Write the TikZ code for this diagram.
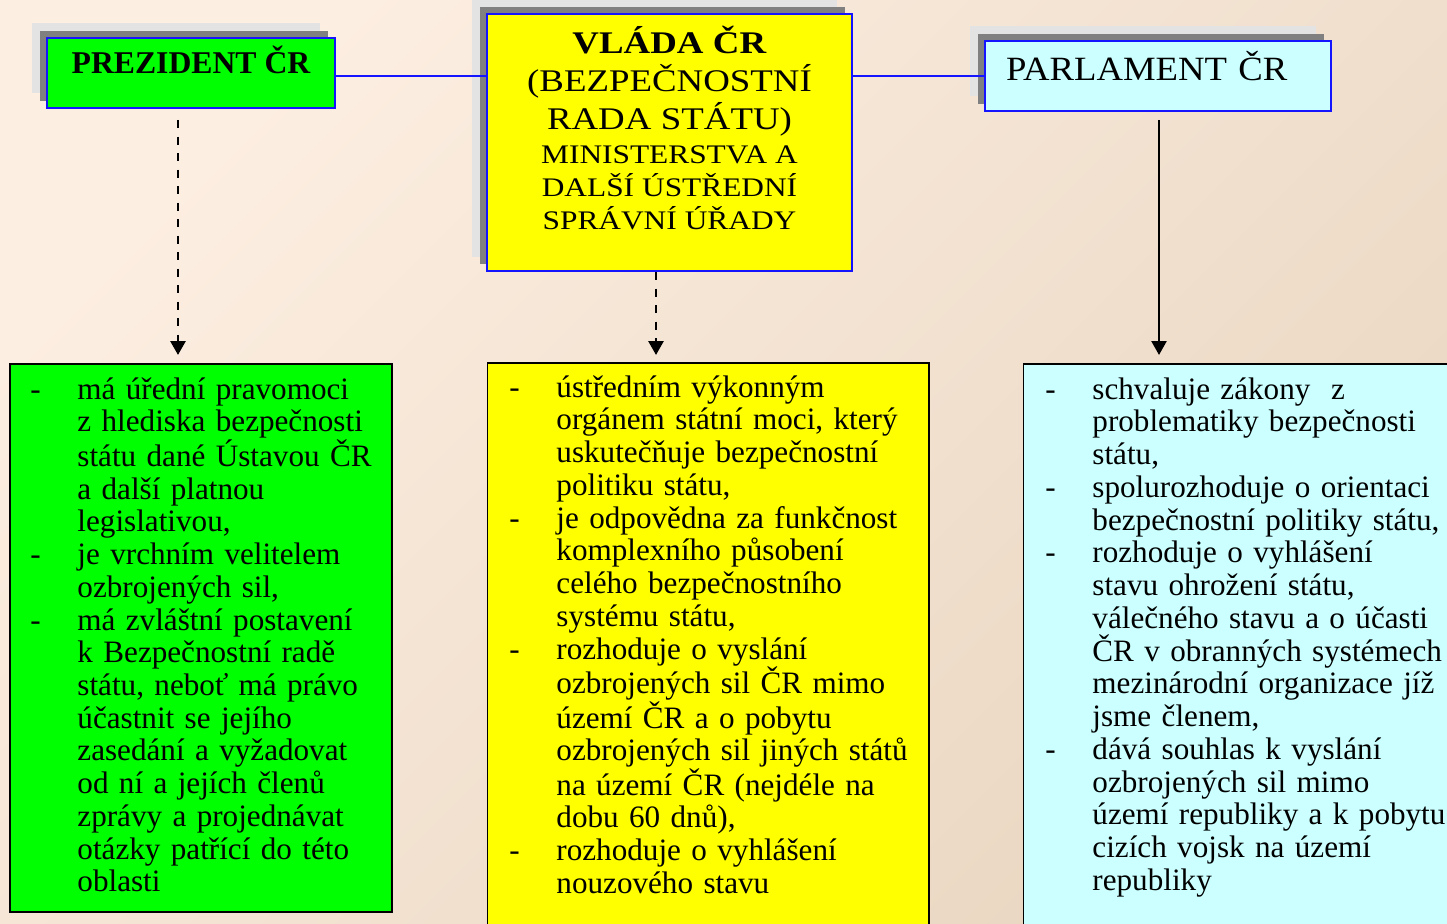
\documentclass[tikz,border=0pt]{standalone}
\usepackage{fontspec}
\setmainfont{Liberation Serif}
\newfontfamily\vladafont[FakeStretch=1.17]{Liberation Serif}
\newfontfamily\parlfont[FakeStretch=1.08]{Liberation Serif}
\usetikzlibrary{arrows.meta,shadows}
\definecolor{bgLight}{HTML}{FCEEE1}
\definecolor{bgDark}{HTML}{EAD7C2}
\definecolor{edgeBlue}{HTML}{1414FF}
\definecolor{shLight}{HTML}{E3E3E3}
\definecolor{shDark}{HTML}{808080}
\definecolor{presGreen}{HTML}{00FF00}
\definecolor{govYellow}{HTML}{FFFF00}
\definecolor{parlCyan}{HTML}{CCFFFF}
\newcommand{\dashitem}{\leavevmode\llap{\makebox[47pt][l]{-}}}
\newcommand{\bigsp}{\hspace{9.5pt}}
\newcommand{\smallsp}{\hspace{8pt}}
\begin{document}
\begin{tikzpicture}[x=1pt,y=-1pt,
  headbox/.style={draw=edgeBlue, line width=2pt, inner sep=0pt, rectangle,
    general shadow={shadow xshift=-15.5pt, shadow yshift=14.5pt, fill=shLight},
    general shadow={shadow xshift=-7.5pt, shadow yshift=7pt, fill=shDark}},
  bodybox/.style={draw=black, line width=1.5pt, inner sep=0pt, rectangle},
  bodytext/.style={anchor=base west, inner sep=0pt, text width=400pt, align=left,
    font=\fontsize{31.15}{32.73}\selectfont},
  link/.style={draw=edgeBlue, line width=2pt},
  dasharrow/.style={line width=2.8pt, dash pattern=on 8pt off 8.5pt,
    -{Triangle[width=15pt,length=14pt]}},
  solidarrow/.style={line width=2.5pt, -{Triangle[width=15pt,length=14pt]}}]

\useasboundingbox (0,0) rectangle (1447,923);
\clip (0,0) rectangle (1447,923);
\shade[top color=bgLight, bottom color=bgDark, shading angle=45] (0,0) rectangle (1447,923);

% head boxes
\node[headbox, fill=presGreen, minimum width=288pt, text height=35.5pt, text depth=34.5pt,
  font=\bfseries\fontsize{31.7}{38}\selectfont] (pres) at (191,73) {PREZIDENT ČR};

\node[headbox, fill=govYellow, text width=365pt, align=center, text height=40pt, text depth=217pt,
  font=\vladafont] (vlada) at (669.5,142.5)
  {\fontsize{31.5}{38}\selectfont\textbf{VLÁDA\bigsp ČR}\\(BEZPEČNOSTNÍ\\RADA\bigsp STÁTU)\par
   \fontsize{26.8}{33.3}\selectfont MINISTERSTVA\smallsp A\\DALŠÍ\smallsp ÚSTŘEDNÍ\\SPRÁVNÍ\smallsp ÚŘADY\par};

\node[headbox, fill=parlCyan, text width=346pt, align=left, text height=40pt, text depth=30pt,
  font=\parlfont\fontsize{34}{40}\selectfont] (parl) at (1158,76)
  {\hspace*{21pt}PARLAMENT ČR};

% links between head boxes
\draw[link] (pres.east |- parl.west) -- (vlada.west |- parl.west);
\draw[link] (vlada.east |- parl.west) -- (parl.west);

% body boxes
\node[bodybox, fill=presGreen, minimum width=382pt, minimum height=548pt] (greenbox) at (201,638) {};
\node[bodybox, fill=govYellow, minimum width=441.5pt, minimum height=600pt] (yellowbox) at (708.25,663) {};
\node[bodybox, fill=parlCyan, minimum width=460pt, minimum height=600pt] (cyanbox) at (1253.5,664) {};

% arrows
\draw[dasharrow] ([shift={(-13,11)}]pres.south) -- ([shift={(-23,-8.25)}]greenbox.north);
\draw[dasharrow] ([shift={(-13.5,0)}]vlada.south) -- ([shift={(-52.25,-7.25)}]yellowbox.north);
\draw[solidarrow] ([shift={(1,8)}]parl.south) -- ([shift={(-94.5,-8.25)}]cyanbox.north);

% body texts
\node[bodytext] (greentext) at ([shift={(68,36)}]greenbox.north west) {%
\dashitem má úřední pravomoci\\
z hlediska bezpečnosti\\
státu dané Ústavou ČR\\
a další platnou\\
legislativou,\\
\dashitem je vrchním velitelem\\
ozbrojených sil,\\
\dashitem má zvláštní postavení\\
k Bezpečnostní radě\\
státu, neboť má právo\\
účastnit se jejího\\
zasedání a vyžadovat\\
od ní a jejích členů\\
zprávy a projednávat\\
otázky patřící do této\\
oblasti};

\node[bodytext] (yellowtext) at ([shift={(69.5,35)}]yellowbox.north west) {%
\dashitem ústředním výkonným\\
orgánem státní moci, který\\
uskutečňuje bezpečnostní\\
politiku státu,\\
\dashitem je odpovědna za funkčnost\\
komplexního působení\\
celého bezpečnostního\\
systému státu,\\
\dashitem rozhoduje o vyslání\\
ozbrojených sil ČR mimo\\
území ČR a o pobytu\\
ozbrojených sil jiných států\\
na území ČR (nejdéle na\\
dobu 60 dnů),\\
\dashitem rozhoduje o vyhlášení\\
nouzového stavu};

\node[bodytext] (cyantext) at ([shift={(69.5,36)}]cyanbox.north west) {%
\dashitem schvaluje zákony\ \ z\\
problematiky bezpečnosti\\
státu,\\
\dashitem spolurozhoduje o orientaci\\
bezpečnostní politiky státu,\\
\dashitem rozhoduje o vyhlášení\\
stavu ohrožení státu,\\
válečného stavu a o účasti\\
ČR v obranných systémech\\
mezinárodní organizace jíž\\
jsme členem,\\
\dashitem dává souhlas k vyslání\\
ozbrojených sil mimo\\
území republiky a k pobytu\\
cizích vojsk na území\\
republiky};
\end{tikzpicture}
\end{document}
